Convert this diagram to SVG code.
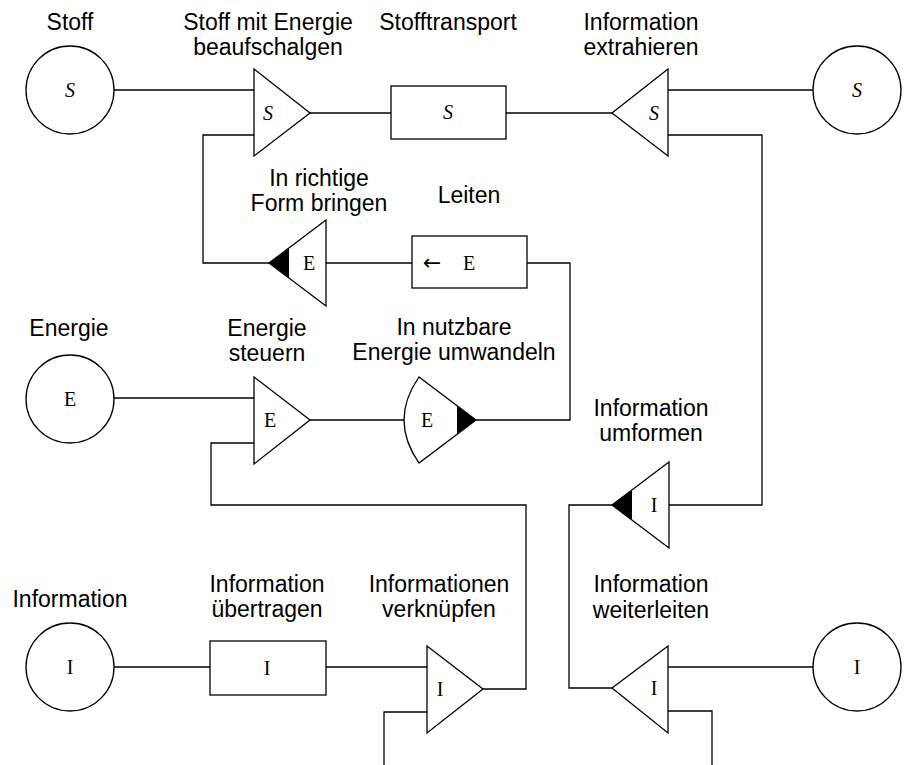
<svg xmlns="http://www.w3.org/2000/svg" width="905" height="765" viewBox="0 0 905 765">
  <style>
    .shape { fill: #fff; stroke: #000; stroke-width: 1.3; }
    .tip { fill: #000; stroke: none; }
    .wire { fill: none; stroke: #000; stroke-width: 1.3; }
    .cap { font-family: "Liberation Sans", Arial, sans-serif; font-size: 23px; fill: #000; text-anchor: middle; }
    .sym { font-family: "Liberation Serif", "DejaVu Serif", serif; font-size: 20px; fill: #000; text-anchor: middle; }
    .it { font-style: italic; }
    .arrow { font-family: "DejaVu Sans", sans-serif; font-size: 22px; fill: #000; text-anchor: middle; }
  </style>

  <!-- connectors -->
  <g id="connectors" class="wire">
    <path d="M114,90 H254"/>
    <path d="M310,113 H391"/>
    <path d="M506,113 H612"/>
    <path d="M668,90 H813"/>
    <path d="M254,135 H203 V263 H269"/>
    <path d="M326,263 H412"/>
    <path d="M527,263 H570 V420 H476"/>
    <path d="M114,398 H254"/>
    <path d="M310,420 H404"/>
    <path d="M254,443 H211 V505 H526 V689 H483"/>
    <path d="M668,135 H762 V505 H669"/>
    <path d="M612,505 H569 V688 H612"/>
    <path d="M114,667 H210"/>
    <path d="M326,667 H427"/>
    <path d="M427,712 H384 V765"/>
    <path d="M668,667 H813"/>
    <path d="M668,711 H712 V765"/>
  </g>

  <!-- Stoff -->
  <g id="stoff-in">
    <text class="cap" x="70" y="30">Stoff</text>
    <circle class="shape" cx="70" cy="90" r="44"/>
    <text class="sym it" x="70" y="97">S</text>
  </g>

  <!-- Stoff mit Energie beaufschalgen -->
  <g id="stoff-beaufschlagen">
    <text class="cap" x="268" y="30">Stoff mit Energie</text>
    <text class="cap" x="268" y="55">beaufschalgen</text>
    <polygon class="shape" points="254,69 310,113 254,156"/>
    <text class="sym it" x="268" y="120">S</text>
  </g>

  <!-- Stofftransport -->
  <g id="stofftransport">
    <text class="cap" x="448" y="30">Stofftransport</text>
    <rect class="shape" x="391" y="86" width="115" height="53"/>
    <text class="sym it" x="448" y="119">S</text>
  </g>

  <!-- Information extrahieren -->
  <g id="info-extrahieren">
    <text class="cap" x="641" y="30">Information</text>
    <text class="cap" x="641" y="55">extrahieren</text>
    <polygon class="shape" points="668,69 612,113 668,156"/>
    <text class="sym it" x="654" y="120">S</text>
  </g>

  <!-- Stoff (Ausgang) -->
  <g id="stoff-out">
    <circle class="shape" cx="857" cy="90" r="44"/>
    <text class="sym it" x="857" y="97">S</text>
  </g>

  <!-- In richtige Form bringen -->
  <g id="form-bringen">
    <text class="cap" x="319" y="186">In richtige</text>
    <text class="cap" x="319" y="211">Form bringen</text>
    <polygon class="shape" points="326,220 269,263 326,306"/>
    <polygon class="tip" points="269,263 289,248 289,278"/>
    <text class="sym" x="309" y="270">E</text>
  </g>

  <!-- Leiten -->
  <g id="leiten">
    <text class="cap" x="469" y="203">Leiten</text>
    <rect class="shape" x="412" y="236" width="115" height="52"/>
    <text class="arrow" x="432" y="270">←</text>
    <text class="sym" x="469" y="270">E</text>
  </g>

  <!-- Energie -->
  <g id="energie-in">
    <text class="cap" x="69" y="336">Energie</text>
    <circle class="shape" cx="70" cy="399" r="44"/>
    <text class="sym" x="70" y="406">E</text>
  </g>

  <!-- Energie steuern -->
  <g id="energie-steuern">
    <text class="cap" x="267" y="336">Energie</text>
    <text class="cap" x="267" y="361">steuern</text>
    <polygon class="shape" points="254,377 310,420 254,464"/>
    <text class="sym" x="270" y="427">E</text>
  </g>

  <!-- In nutzbare Energie umwandeln -->
  <g id="energie-umwandeln">
    <text class="cap" x="454" y="335">In nutzbare</text>
    <text class="cap" x="454" y="360">Energie umwandeln</text>
    <path class="shape" d="M419,377 L476,420 L419,463 Q389,420 419,377 Z"/>
    <polygon class="tip" points="476,420 457,405.7 457,434.3"/>
    <text class="sym" x="427" y="427">E</text>
  </g>

  <!-- Information umformen -->
  <g id="info-umformen">
    <text class="cap" x="651" y="416">Information</text>
    <text class="cap" x="651" y="441">umformen</text>
    <polygon class="shape" points="669,462 612,505 669,548"/>
    <polygon class="tip" points="612,505 632,490 632,520"/>
    <text class="sym" x="654" y="512">I</text>
  </g>

  <!-- Information -->
  <g id="info-in">
    <text class="cap" x="70" y="607">Information</text>
    <circle class="shape" cx="70" cy="667" r="44"/>
    <text class="sym" x="70" y="674">I</text>
  </g>

  <!-- Information übertragen -->
  <g id="info-uebertragen">
    <text class="cap" x="267" y="592">Information</text>
    <text class="cap" x="267" y="617">übertragen</text>
    <rect class="shape" x="210" y="641" width="116" height="54"/>
    <text class="sym" x="267" y="675">I</text>
  </g>

  <!-- Informationen verknüpfen -->
  <g id="info-verknuepfen">
    <text class="cap" x="439" y="592">Informationen</text>
    <text class="cap" x="439" y="617">verknüpfen</text>
    <polygon class="shape" points="427,646 483,689 427,733"/>
    <text class="sym" x="440" y="696">I</text>
  </g>

  <!-- Information weiterleiten -->
  <g id="info-weiterleiten">
    <text class="cap" x="651" y="592">Information</text>
    <text class="cap" x="651" y="618">weiterleiten</text>
    <polygon class="shape" points="668,646 612,688 668,733"/>
    <text class="sym" x="654" y="695">I</text>
  </g>

  <!-- Information (Ausgang) -->
  <g id="info-out">
    <circle class="shape" cx="857" cy="667" r="44"/>
    <text class="sym" x="857" y="674">I</text>
  </g>
</svg>
